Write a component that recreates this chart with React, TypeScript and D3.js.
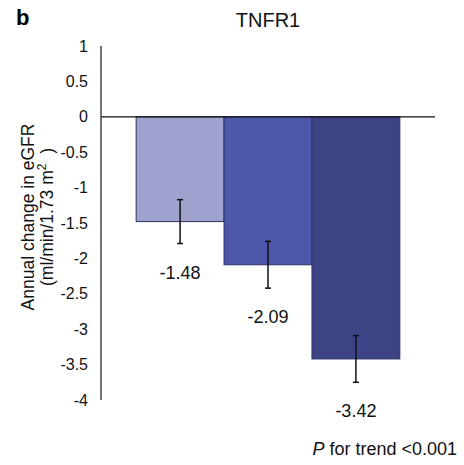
import React from 'react';
import * as d3 from 'd3';

const groups = ['Q1', 'Q2', 'Q3'];
const values = [-1.48, -2.09, -3.42];
const errors = [0.31, 0.33, 0.33];
const yTicks = [1, 0.5, 0, -0.5, -1, -1.5, -2, -2.5, -3, -3.5, -4];
const colors = ['#9ea2cd', '#4d58aa', '#3c4486'];

const width = 464;
const height = 465;
const font = '"Liberation Sans", Arial, sans-serif';

const App = () => {
  const x = d3
    .scaleBand()
    .domain(groups)
    .range([101, 435])
    .paddingInner(0)
    .paddingOuter(0.4);

  const y = d3.scaleLinear().domain([1, -4]).range([46, 400]);

  const fmt = d => String(d);

  return (
    <svg
      width={width}
      height={height}
      style={{ position: 'absolute', left: 0, top: 0, background: '#fff' }}
      fontFamily={font}
    >
      <text x={16} y={25} fontSize={22} fontWeight="bold">
        b
      </text>
      <text x={268} y={27} fontSize={20} textAnchor="middle" fill="#111">
        TNFR1
      </text>

      {/* bars */}
      {groups.map((g, i) => (
        <rect
          key={g}
          x={x(g)}
          y={y(0)}
          width={x.bandwidth()}
          height={y(values[i]) - y(0)}
          fill={colors[i]}
          stroke="#2c3168"
          strokeWidth={1}
        />
      ))}

      {/* error bars */}
      {groups.map((g, i) => {
        const cx = x(g) + x.bandwidth() / 2;
        const top = y(values[i] + errors[i]);
        const bot = y(values[i] - errors[i]);
        return (
          <g key={g} stroke="#111" strokeWidth={1.5}>
            <line x1={cx} x2={cx} y1={top} y2={bot} />
            <line x1={cx - 3} x2={cx + 3} y1={top} y2={top} />
            <line x1={cx - 3} x2={cx + 3} y1={bot} y2={bot} />
          </g>
        );
      })}

      {/* value labels */}
      {groups.map((g, i) => (
        <text
          key={g}
          x={x(g) + x.bandwidth() / 2}
          y={y(values[i] - errors[i]) + 35}
          fontSize={18}
          textAnchor="middle"
          fill="#111"
        >
          {values[i].toFixed(2)}
        </text>
      ))}

      {/* zero line */}
      <line x1={101} x2={435} y1={y(0)} y2={y(0)} stroke="#111" strokeWidth={1.2} />

      {/* y axis */}
      <line x1={101} x2={101} y1={y(1)} y2={y(-4)} stroke="#444" strokeWidth={1.5} />
      {yTicks.map(t => (
        <text
          key={t}
          x={88}
          y={y(t)}
          dy="0.35em"
          fontSize={16}
          textAnchor="end"
          fill="#111"
        >
          {fmt(t)}
        </text>
      ))}

      <text
        transform={`translate(34, 217) rotate(-90)`}
        fontSize={17.5}
        textAnchor="middle"
        fill="#111"
      >
        Annual change in eGFR
      </text>
      <text
        transform={`translate(53, 217) rotate(-90)`}
        fontSize={17.5}
        textAnchor="middle"
        fill="#111"
      >
        (ml/min/1.73 m
        <tspan fontSize={12} dy={-7}>
          2
        </tspan>
        <tspan dy={7}>{'\u00a0\u00a0)'}</tspan>
      </text>

      <text x={457} y={455} fontSize={18} textAnchor="end" fill="#111">
        <tspan fontStyle="italic">P</tspan> for trend &lt;0.001
      </text>
    </svg>
  );
};

export default App;
